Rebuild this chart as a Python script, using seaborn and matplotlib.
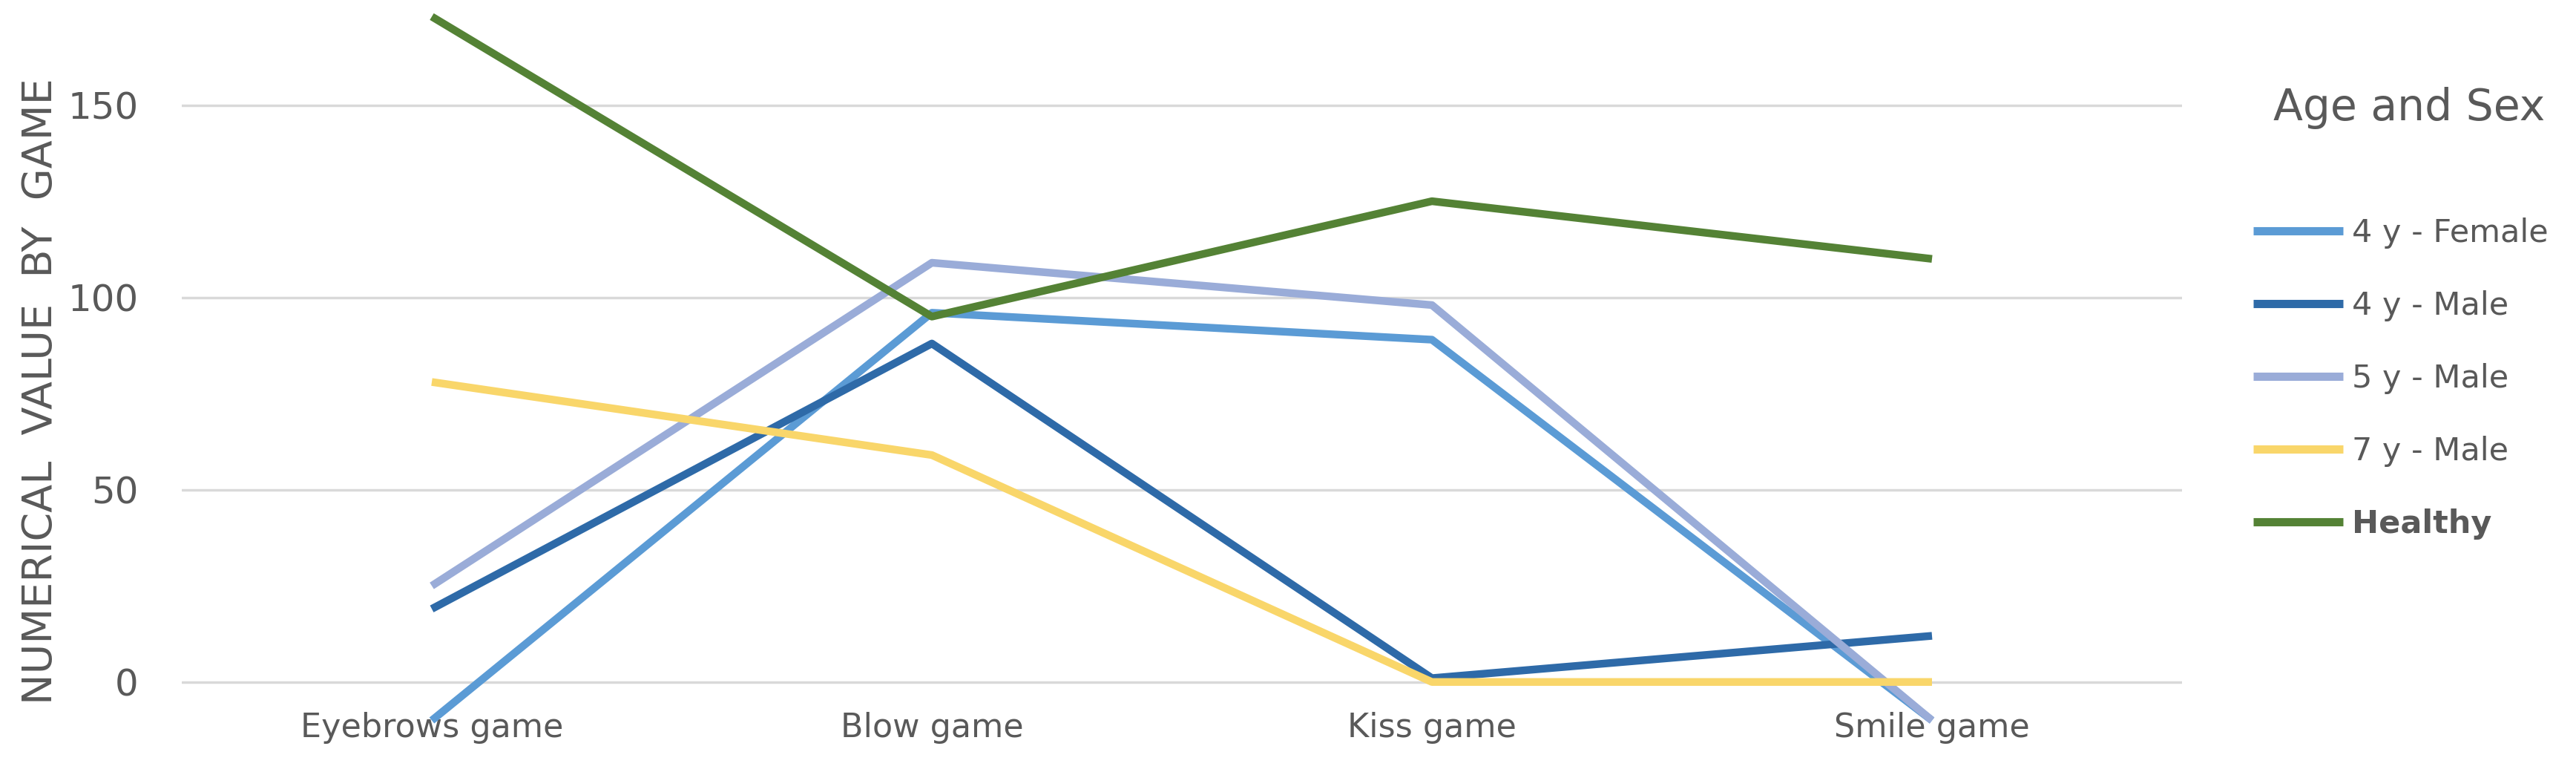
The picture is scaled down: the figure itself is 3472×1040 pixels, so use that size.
import numpy as np
import pandas as pd
import seaborn as sns
import matplotlib.pyplot as plt


# =========================
# DATA
# =========================
games = ["Eyebrows game", "Blow game", "Kiss game", "Smile game"]
series_names = ["4 y - Female", "4 y - Male", "5 y - Male", "7 y - Male", "Healthy"]

female_4y = [-10, 96, 89, -10]
male_4y = [19, 88, 1, 12]
male_5y = [25, 109, 98, -10]
male_7y = [78, 59, 0, 0]
healthy = [173, 95, 125, 110]

y_ticks = [0, 50, 100, 150]

colors = ["#5B9BD5", "#2E6AA8", "#9AACD8", "#F9D66A", "#548235"]

# long-form table for seaborn
values = [female_4y, male_4y, male_5y, male_7y, healthy]
rows = []
for name, vals in zip(series_names, values):
    for g, v in zip(games, vals):
        rows.append({"Game": g, "Value": v, "Series": name})
df = pd.DataFrame(rows)


# =========================
# PLOT
# =========================
sns.set_style("white")
plt.rcParams["font.family"] = ["DejaVu Sans"]
text_color = "#595959"

W, H = 3473, 1040
fig = plt.figure(figsize=(W / 100, H / 100), dpi=100)

# axes box in pixels (left, right, top, bottom)
left_px, right_px, top_px, bottom_px = 245, 2941, 12, 955
ax = fig.add_axes([left_px / W, 1 - bottom_px / H,
                   (right_px - left_px) / W, (bottom_px - top_px) / H])

sns.lineplot(data=df, x="Game", y="Value", hue="Series", hue_order=series_names,
             palette=colors, linewidth=7.5, sort=False, ax=ax)

for line in ax.lines:
    line.set_clip_on(False)
    line.set_solid_capstyle("butt")
    line.set_solid_joinstyle("round")

ax.set_xlim(-0.5, len(games) - 0.5)
ax.set_ylim(-7, 175)
ax.set_yticks(y_ticks)
ax.set_xticks(range(len(games)))
ax.set_xticklabels(games)

ax.grid(axis="y", color="#D9D9D9", linewidth=2.5)
ax.grid(axis="x", visible=False)
ax.set_axisbelow(True)
for s in ax.spines.values():
    s.set_visible(False)

ax.tick_params(axis="y", length=0, pad=42, labelsize=36, labelcolor=text_color)
ax.tick_params(axis="x", length=0, pad=3, labelsize=32, labelcolor=text_color)

ax.set_xlabel("")
ax.set_ylabel("NUMERICAL  VALUE  BY  GAME", fontsize=40, color=text_color)
ax.yaxis.set_label_coords(-0.0605, 0.454)

# legend
handles, labels = ax.get_legend_handles_labels()
ax.get_legend().remove()
leg = fig.legend(handles, labels, loc="upper left",
                 bbox_to_anchor=(3037 / W, 1 - 293 / H),
                 frameon=False, fontsize=31, handlelength=2.8,
                 handletextpad=0.28, labelspacing=1.3,
                 borderpad=0, borderaxespad=0)
for t in leg.get_texts():
    t.set_color(text_color)
leg.get_texts()[-1].set_fontweight("bold")
for h in leg.get_lines():
    h.set_linewidth(8)

fig.text(3247 / W, 1 - 145 / H, "Age and Sex", ha="center", va="center",
         fontsize=42, color=text_color)

plt.savefig("out.png", dpi=100)
